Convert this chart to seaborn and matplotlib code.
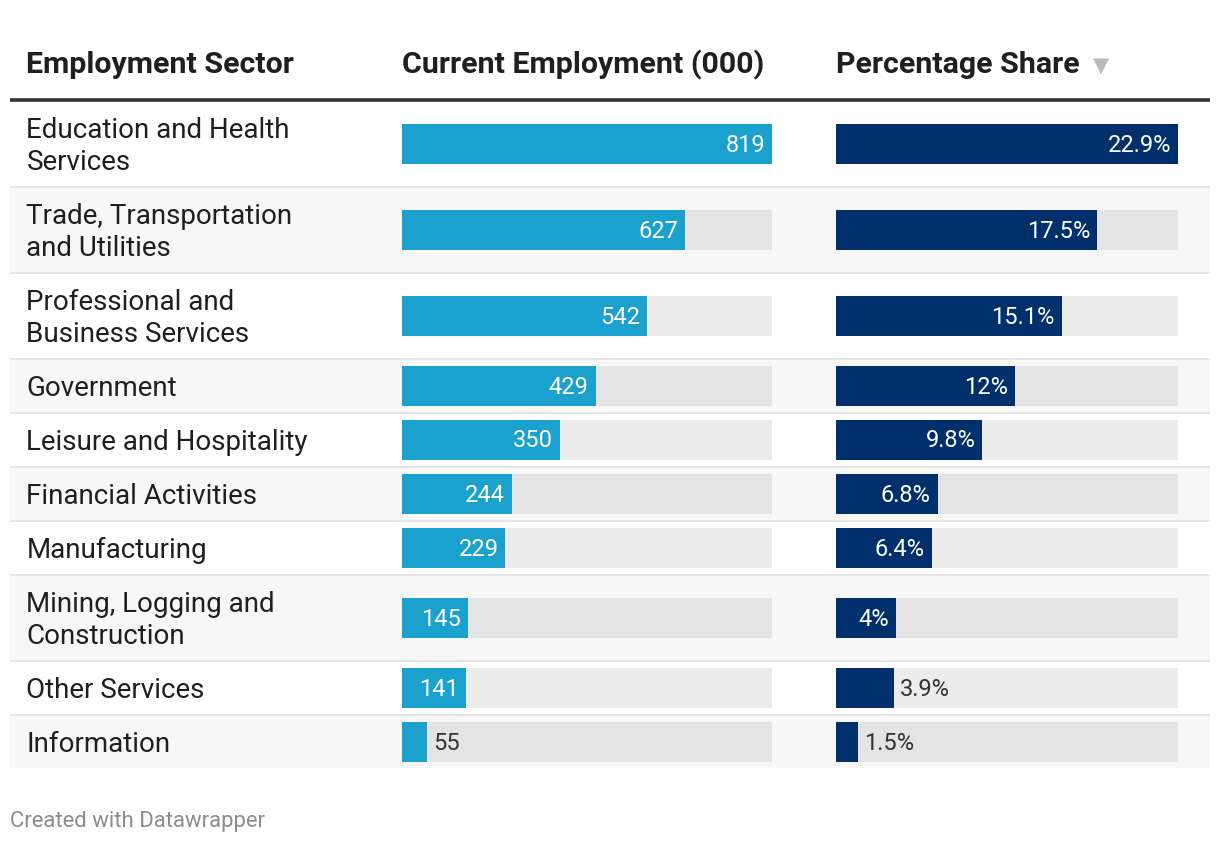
import matplotlib
matplotlib.use("Agg")
import numpy as np
import pandas as pd
import matplotlib.pyplot as plt
import seaborn as sns
from matplotlib.patches import Rectangle

sectors = [
    "Education and Health\nServices",
    "Trade, Transportation\nand Utilities",
    "Professional and\nBusiness Services",
    "Government",
    "Leisure and Hospitality",
    "Financial Activities",
    "Manufacturing",
    "Mining, Logging and\nConstruction",
    "Other Services",
    "Information",
]
employment = [819, 627, 542, 429, 350, 244, 229, 145, 141, 55]
share = [22.9, 17.5, 15.1, 12, 9.8, 6.8, 6.4, 4, 3.9, 1.5]
share_labels = ["22.9%", "17.5%", "15.1%", "12%", "9.8%", "6.8%", "6.4%", "4%", "3.9%", "1.5%"]
headers = ["Employment Sector", "Current Employment (000)", "Percentage Share"]

df = pd.DataFrame({"sector": sectors, "employment": employment, "share": share,
                   "share_label": share_labels})

sns.set_theme(style="white")
plt.rcParams["font.family"] = ["Roboto", "DejaVu Sans"]

W, H = 1220, 844
fig = plt.figure(figsize=(W / 100, H / 100), dpi=100)
fig.patch.set_facecolor("white")

bg = fig.add_axes([0, 0, 1, 1])
bg.set_xlim(0, W)
bg.set_ylim(H, 0)
bg.axis("off")

# layout in pixels
left, right = 10, 1210
label_x = 26.5
emp_x, emp_w = 402, 370
pct_x, pct_w = 836, 342
bar_h = 40
blue = "#1aa1cd"
navy = "#00306c"

# header
head_y = 65
for hx, txt in zip([label_x, emp_x, pct_x], headers):
    bg.text(hx, head_y, txt, fontsize=21.9, fontweight="bold", color="#1f1f1f", va="center")
bg.text(1093, head_y + 1, "\u25bc", fontsize=15, color="#bbbbbb", va="center",
        family=["DejaVu Sans"])
bg.plot([left, right], [99.5, 99.5], color="#333333", lw=2.6, solid_capstyle="butt")

# rows
top = 102
fig.canvas.draw()
renderer = fig.canvas.get_renderer()


def bar_cell(x0, width, yc, value, vmax, color, label):
    ax = fig.add_axes([x0 / W, 1 - (yc + bar_h / 2) / H, width / W, bar_h / H])
    sns.barplot(x=[vmax], y=[0], orient="h", color="black", alpha=0.075,
                width=1, linewidth=0, ax=ax)
    sns.barplot(x=[value], y=[0], orient="h", color=color, saturation=1,
                width=1, linewidth=0, ax=ax)
    ax.set_xlim(0, vmax)
    ax.set_ylim(0.5, -0.5)
    ax.axis("off")
    bar_px = value / vmax * width
    t = ax.annotate(label, (value, 0), xytext=(-7, -1), textcoords="offset pixels",
                    ha="right", va="center", fontsize=17, color="white")
    tw = t.get_window_extent(renderer).width
    if tw + 12 > bar_px:
        t.remove()
        ax.annotate(label, (value, 0), xytext=(6, -1), textcoords="offset pixels",
                    ha="left", va="center", fontsize=17, color="#333333")


for i, row in df.iterrows():
    two_lines = "\n" in row["sector"]
    h = 84 if two_lines else 52
    if i % 2 == 1:
        bg.add_patch(Rectangle((left, top), right - left, h, color="#f7f7f7", lw=0))
    if i > 0:
        bg.add_patch(Rectangle((left, top - 2), right - left, 2, color="#e6e6e6", lw=0))
    yc = top + h / 2
    bg.text(label_x, yc + 2.5, row["sector"], fontsize=20, color="#1f1f1f", va="center",
            linespacing=1.27)
    bar_cell(emp_x, emp_w, yc, row["employment"], max(employment), blue, str(row["employment"]))
    bar_cell(pct_x, pct_w, yc, row["share"], max(share), navy, row["share_label"])
    top += h + 2

bg.text(10, 821, "Created with Datawrapper", fontsize=15.9, color="#8c8c8c", va="center")

fig.savefig("out.png", dpi=100)
